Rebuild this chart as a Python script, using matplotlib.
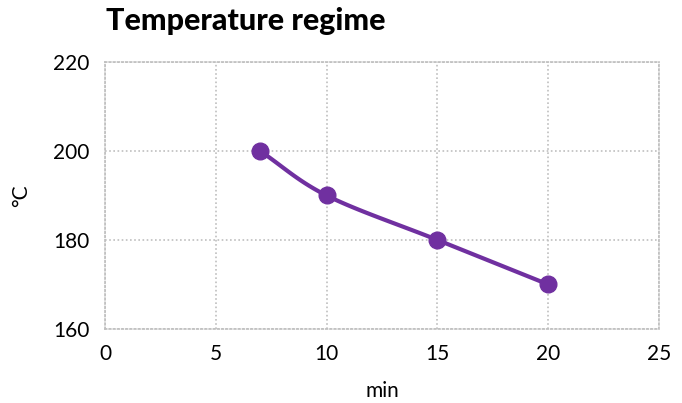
import matplotlib.pyplot as plt
import numpy as np

plt.rcParams['font.family'] = ['Lato', 'DejaVu Sans']

# data
minutes = [7, 10, 15, 20]
temps = [200, 190, 180, 170]
x_ticks = [0, 5, 10, 15, 20, 25]
y_ticks = [160, 180, 200, 220]
purple = '#7030A0'


def smooth(xs, ys, n=40):
    # catmull-rom style curve through the points (like excel smoothed line)
    xs = np.asarray(xs, float)
    ys = np.asarray(ys, float)
    px = np.concatenate([[2 * xs[0] - xs[1]], xs, [2 * xs[-1] - xs[-2]]])
    py = np.concatenate([[2 * ys[0] - ys[1]], ys, [2 * ys[-1] - ys[-2]]])
    out_x, out_y = [], []
    t = np.linspace(0, 1, n)
    for i in range(1, len(px) - 2):
        for arr, out in ((px, out_x), (py, out_y)):
            p0, p1, p2, p3 = arr[i - 1], arr[i], arr[i + 1], arr[i + 2]
            out.extend(0.5 * ((2 * p1) + (-p0 + p2) * t
                              + (2 * p0 - 5 * p1 + 4 * p2 - p3) * t ** 2
                              + (-p0 + 3 * p1 - 3 * p2 + p3) * t ** 3))
    return out_x, out_y


fig = plt.figure(figsize=(6.82, 4.03), dpi=100)
ax = fig.add_axes([0.154, 0.184, 0.812, 0.662])

sx, sy = smooth(minutes, temps)
ax.plot(sx, sy, color=purple, linewidth=3, solid_capstyle='round', zorder=3)
ax.plot(minutes, temps, 'o', color=purple, markersize=12, zorder=4)

ax.set_xlim(0, 25)
ax.set_ylim(160, 220)
ax.set_xticks(x_ticks)
ax.set_yticks(y_ticks)
ax.grid(True, color='#bfbfbf', linestyle=(0, (1, 1.5)), linewidth=1.2)
for s in ax.spines.values():
    s.set_visible(True)
    s.set_color('#bfbfbf')
    s.set_linestyle((0, (1, 1.5)))
    s.set_linewidth(1.2)
ax.tick_params(length=0, labelsize=15, pad=11)

ax.set_xlabel('min', fontsize=15, labelpad=12)
ax.set_ylabel('°C', fontsize=15, labelpad=16)
fig.text(0.155, 0.925, 'Temperature regime', fontsize=22, fontweight='black')

fig.savefig('out.png', dpi=100)
